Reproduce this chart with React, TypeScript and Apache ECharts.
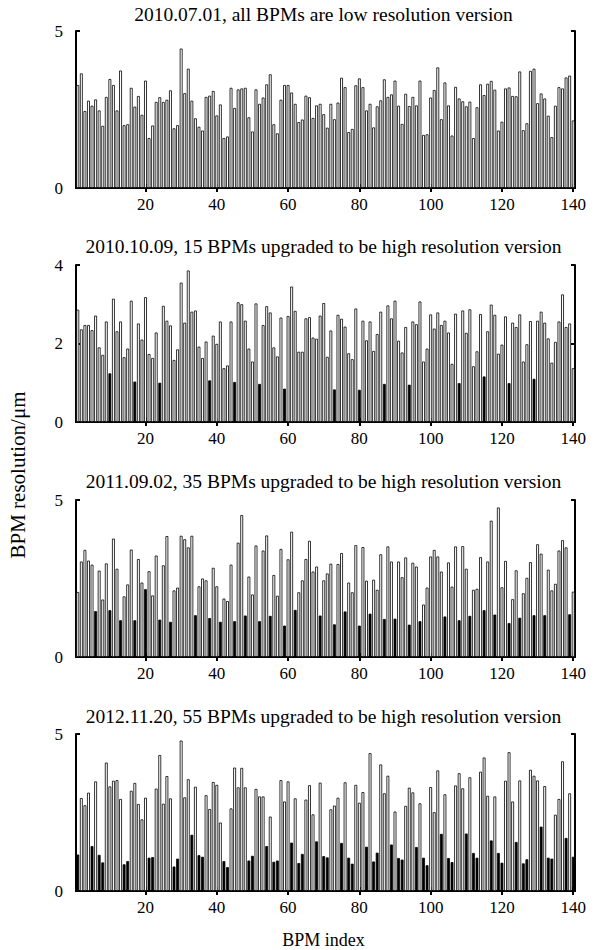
import React, { useEffect, useRef } from "react";
import * as echarts from "echarts";

const titles = [
  "2010.07.01, all BPMs are low resolution version",
  "2010.10.09, 15 BPMs upgraded to be high resolution version",
  "2011.09.02, 35 BPMs upgraded to be high resolution version",
  "2012.11.20, 55 BPMs upgraded to be high resolution version",
];

const bpmIndex = Array.from({ length: 140 }, (_, i) => String(i + 1));
const xTickLabels = ["20", "40", "60", "80", "100", "120", "140"];
const yMax = [5, 4, 5, 5];
const yInterval = [5, 2, 5, 5];

const res2010a = [
  3.28,3.65,2.45,2.78,2.62,2.82,2.47,1.98,2.9,3.47,3.28,2.47,3.74,2.0,2.03,3.19,2.59,2.93,2.33,3.42,1.59,1.99,2.74,2.89,2.74,2.81,3.11,1.9,2.0,4.44,3.02,3.8,2.78,2.22,1.95,1.83,2.9,2.94,3.09,2.31,2.66,1.59,1.64,3.19,2.55,3.14,3.17,
  3.19,2.25,1.8,3.14,2.68,2.88,3.3,3.62,2.03,1.74,2.81,3.28,3.28,3.04,2.68,2.1,2.18,2.94,2.89,2.23,2.63,2.68,2.35,1.92,2.68,2.19,2.72,3.51,3.21,1.78,1.88,3.27,3.49,3.21,2.47,2.68,1.93,2.6,2.79,3.46,2.9,2.98,3.42,2.62,2.04,3.0,2.61,2.9,
  2.63,3.42,1.69,1.71,2.88,3.12,3.84,2.19,3.36,2.63,1.67,3.22,2.85,2.76,2.6,2.75,1.59,2.57,3.3,2.96,3.32,3.41,3.13,1.83,2.11,3.17,3.2,2.93,2.92,3.71,1.84,2.06,3.73,3.8,2.7,3.01,2.85,2.3,1.62,2.62,3.21,3.17,3.52,3.58,2.15,
];
const high2010a: number[] = [];

const res2010b = [
  2.86,2.36,2.47,2.47,2.34,2.71,1.9,1.71,2.56,1.24,3.14,2.31,2.56,1.65,1.87,3.09,1.03,2.51,2.1,3.18,1.73,1.63,2.28,1.0,2.96,2.58,2.46,1.58,1.85,3.55,2.53,3.86,2.81,2.84,1.92,1.63,2.05,1.06,2.2,1.99,2.56,1.37,1.44,2.56,1.02,3.05,3.0,
  2.58,1.87,1.54,3.02,0.97,2.47,2.95,2.79,1.9,1.67,2.66,0.85,2.7,3.45,2.83,1.79,1.79,2.64,2.67,2.15,2.12,2.71,3.03,1.66,2.33,0.83,2.73,2.63,2.43,1.75,1.6,2.89,0.82,2.58,2.08,2.56,1.81,2.24,2.81,0.97,2.97,2.64,3.09,2.07,1.77,2.42,0.95,2.56,
  2.49,3.07,1.54,1.87,2.74,2.38,2.79,2.47,2.58,2.28,1.48,2.76,0.99,2.84,2.27,2.87,1.42,1.8,2.75,1.16,2.31,2.99,2.73,1.74,1.97,2.69,0.99,2.53,2.42,2.74,1.54,1.98,2.57,1.1,2.58,2.81,2.53,2.13,1.51,2.04,2.56,3.25,2.42,2.51,1.37,
];
const high2010b = [10,17,24,38,45,52,59,73,80,87,94,108,115,122,129];

const res2011 = [
  2.07,3.04,3.41,3.07,2.94,1.46,2.75,1.83,2.98,1.49,3.77,2.81,1.17,1.93,2.31,3.42,1.17,3.12,2.37,2.16,2.73,1.96,3.23,1.19,2.92,3.85,1.12,2.12,2.21,3.86,3.75,3.49,3.86,1.33,2.25,2.5,2.44,1.24,2.84,2.25,1.12,1.86,1.78,2.94,1.14,3.64,4.52,
  1.32,2.56,1.99,3.55,1.14,3.39,3.87,1.31,2.61,1.95,3.44,1.0,3.11,3.99,1.5,2.06,2.44,3.12,3.7,2.72,2.88,1.32,2.44,2.66,2.97,1.04,2.96,3.31,1.45,2.37,2.06,3.56,1.0,3.5,2.43,1.38,2.46,2.14,3.27,1.21,3.52,3.04,1.22,3.04,2.54,3.17,1.03,3.0,
  2.88,1.14,1.67,2.21,3.2,3.41,3.2,2.72,1.29,3.01,2.24,3.52,1.17,3.53,2.81,1.31,2.14,2.17,3.18,1.49,3.04,4.34,1.35,4.76,2.22,3.06,1.08,1.84,2.76,1.25,2.03,2.52,3.02,1.33,3.59,3.29,1.33,2.78,2.12,2.33,3.39,3.72,3.49,1.36,2.08,
];
const high2011 = [6,10,13,17,20,24,27,34,38,41,45,48,52,55,59,62,69,73,76,80,83,87,90,94,97,104,108,111,115,118,122,125,129,132,139];

const res2012 = [
  1.16,2.96,2.73,3.13,1.43,3.49,1.15,0.91,4.09,3.33,3.51,3.53,2.93,0.85,0.95,3.19,3.44,2.77,2.28,2.97,1.06,1.08,3.26,4.33,2.78,3.66,2.95,0.78,1.03,4.79,2.98,3.56,1.79,3.32,1.14,1.09,3.05,2.61,3.47,3.38,2.18,0.95,0.76,2.63,3.93,3.3,3.92,
  3.3,0.97,1.12,3.25,3.01,3.01,1.43,2.37,0.93,0.97,3.53,2.85,3.49,1.54,2.95,0.89,1.18,2.91,3.37,2.44,1.58,3.45,1.11,1.07,2.6,2.72,2.97,1.53,3.46,1.06,0.87,3.38,2.81,3.15,1.41,4.39,0.94,1.22,4.03,3.11,3.67,1.48,2.53,1.05,1.0,2.71,3.29,3.14,
  1.4,2.79,1.06,0.82,3.31,2.51,3.84,1.82,3.08,1.05,0.92,3.36,3.75,3.27,1.83,3.62,1.21,1.06,3.8,4.25,3.03,1.61,3.01,1.21,0.9,3.51,4.42,2.85,1.56,3.52,0.88,1.01,3.86,3.67,3.52,2.05,3.34,1.06,1.03,2.43,2.93,4.13,1.69,3.11,1.09,
];
const high2012 = [1,5,7,8,14,15,21,22,28,29,33,35,36,42,43,49,50,54,56,57,61,63,64,68,70,71,75,77,78,82,84,85,89,91,92,96,98,99,103,105,106,110,112,113,117,119,120,124,126,127,131,133,134,138,140];

const panelValues = [res2010a, res2010b, res2011, res2012];
const panelHigh = [high2010a, high2010b, high2011, high2012];

const FONT = "'Liberation Serif', 'Times New Roman', serif";
const gridTops = [31, 265, 500, 734];
const gridLeft = 76;
const gridWidth = 499;
const gridHeight = 157;
const titleY = [14, 246, 481, 716];

export default function App() {
  const ref = useRef<HTMLDivElement>(null);
  useEffect(() => {
    if (!ref.current) return;
    const chart = echarts.init(ref.current, null, { renderer: "svg" });
    const grids: any[] = [];
    const xAxes: any[] = [];
    const yAxes: any[] = [];
    const series: any[] = [];
    const graphics: any[] = [];
    const showTick = (i: number) => xTickLabels.includes(bpmIndex[i]);
    for (let p = 0; p < 4; p++) {
      grids.push({ left: gridLeft, width: gridWidth, top: gridTops[p], height: gridHeight });
      const axisLine = { show: true, lineStyle: { color: "#000", width: 2 } };
      xAxes.push({
        type: "category", gridIndex: p, data: bpmIndex, position: "bottom",
        boundaryGap: true, axisLine,
        axisTick: { show: true, inside: true, length: 4, alignWithLabel: true, interval: (i: number) => showTick(i), lineStyle: { color: "#000", width: 2 } },
        axisLabel: { interval: (i: number) => showTick(i), color: "#000", fontFamily: FONT, fontSize: 17, margin: 8 },
        splitLine: { show: false },
      });
      xAxes.push({
        type: "category", gridIndex: p, data: bpmIndex, position: "top",
        boundaryGap: true, axisLine,
        axisTick: { show: true, inside: true, length: 4, alignWithLabel: true, interval: (i: number) => showTick(i), lineStyle: { color: "#000", width: 2 } },
        axisLabel: { show: false },
        splitLine: { show: false },
      });
      yAxes.push({
        type: "value", gridIndex: p, min: 0, max: yMax[p], interval: yInterval[p], position: "left",
        axisLine,
        axisTick: { show: true, inside: true, length: 4, lineStyle: { color: "#000", width: 2 } },
        axisLabel: { color: "#000", fontFamily: FONT, fontSize: 17, margin: 13 },
        splitLine: { show: false },
      });
      yAxes.push({
        type: "value", gridIndex: p, min: 0, max: yMax[p], interval: yInterval[p], position: "right",
        axisLine,
        axisTick: { show: true, inside: true, length: 4, lineStyle: { color: "#000", width: 2 } },
        axisLabel: { show: false },
        splitLine: { show: false },
      });
      const vals = panelValues[p];
      const high = panelHigh[p];
      series.push({
        type: "bar", xAxisIndex: 2 * p, yAxisIndex: 2 * p,
        data: vals.map((v, i) => (high.includes(i + 1) ? "-" : v)),
        barWidth: "80%", barGap: "-100%",
        itemStyle: { color: "#fff", borderColor: "#000", borderWidth: 0.8 },
        silent: true,
      });
      series.push({
        type: "bar", xAxisIndex: 2 * p, yAxisIndex: 2 * p,
        data: vals.map((v, i) => (high.includes(i + 1) ? v : "-")),
        barWidth: "80%", barGap: "-100%",
        itemStyle: { color: "#000", borderColor: "#000", borderWidth: 0.8 },
        silent: true,
      });
      graphics.push({
        type: "text", x: gridLeft + gridWidth / 2 - 2, y: titleY[p],
        style: { text: titles[p], fill: "#000", font: `19.5px ${FONT}`, textAlign: "center", textVerticalAlign: "middle" },
      });
    }
    graphics.push({
      type: "text", x: 18, y: 475, rotation: Math.PI / 2,
      style: { text: "BPM resolution/μm", fill: "#000", font: `21px ${FONT}`, textAlign: "center", textVerticalAlign: "middle" },
    });
    graphics.push({
      type: "text", x: gridLeft + gridWidth / 2 - 2, y: 940,
      style: { text: "BPM index", fill: "#000", font: `18px ${FONT}`, textAlign: "center", textVerticalAlign: "middle" },
    });
    chart.setOption({
      animation: false,
      backgroundColor: "#fff",
      grid: grids,
      xAxis: xAxes,
      yAxis: yAxes,
      series,
      graphic: graphics,
    });
    return () => chart.dispose();
  }, []);
  return (
    <div
      ref={ref}
      style={{ position: "fixed", left: 0, top: 0, width: 600, height: 950, background: "#fff" }}
    />
  );
}
